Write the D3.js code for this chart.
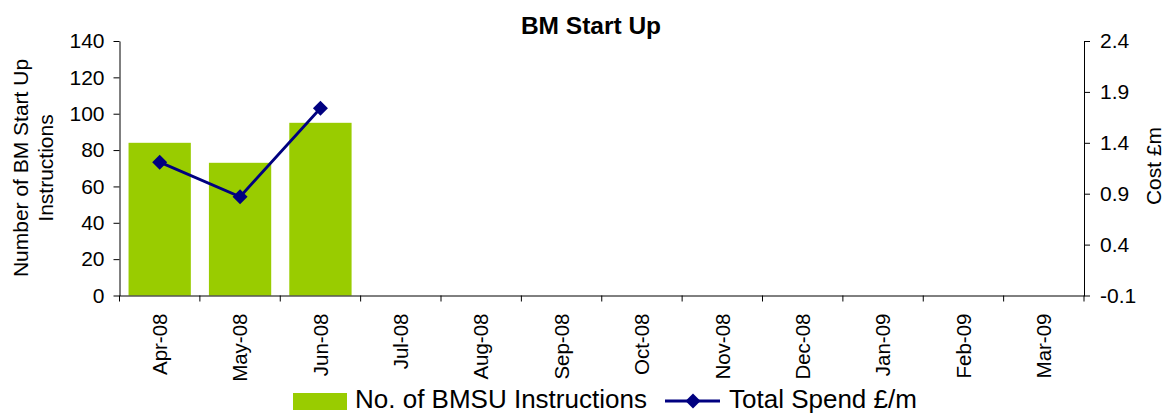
<!DOCTYPE html>
<html><head><meta charset="utf-8">
<script src="https://cdn.jsdelivr.net/npm/d3@7"></script>
<style>body{margin:0;background:#fff;}svg{display:block;font-family:"Liberation Sans",Arial,sans-serif;}</style>
</head><body>
<svg id="c" width="1167" height="414"></svg>
<script>
const months = ["Apr-08","May-08","Jun-08","Jul-08","Aug-08","Sep-08","Oct-08","Nov-08","Dec-08","Jan-09","Feb-09","Mar-09"];
const instructions = [84, 73, 95, null, null, null, null, null, null, null, null, null];
const spend = [1.21, 0.87, 1.74, null, null, null, null, null, null, null, null, null];
const leftTicks = [0,20,40,60,80,100,120,140];
const rightTicks = [-0.1,0.4,0.9,1.4,1.9,2.4];

const svg = d3.select("#c");
const L = 119.5, R = 1084, T = 41, B = 295.5;
const x = d3.scaleBand().domain(months).range([L, R]).paddingInner(0.225).paddingOuter(0.1125);
const xb = d3.scaleBand().domain(months).range([L, R]);
const yL = d3.scaleLinear().domain([0,140]).range([B, T]);
const yR = d3.scaleLinear().domain([-0.1,2.4]).range([B, T]);

// bars
svg.append("g").selectAll("rect").data(months.map((m,i)=>({m,v:instructions[i]})).filter(d=>d.v!=null))
  .enter().append("rect")
  .attr("x", d=>x(d.m)).attr("width", x.bandwidth())
  .attr("y", d=>yL(d.v)).attr("height", d=>B-yL(d.v))
  .attr("fill", "#99CC00");

// axes
const gL = svg.append("g").attr("transform",`translate(${L},0)`)
  .call(d3.axisLeft(yL).tickValues(leftTicks).tickSizeInner(6).tickSizeOuter(0).tickPadding(9).tickFormat(d3.format("d")));
const gR = svg.append("g").attr("transform",`translate(${R},0)`)
  .call(d3.axisRight(yR).tickValues(rightTicks).tickSizeInner(6).tickSizeOuter(0).tickPadding(10).tickFormat(d=>d.toFixed(1)));
const gX = svg.append("g").attr("transform",`translate(0,${B})`)
  .call(d3.axisBottom(xb).tickSize(0).tickSizeOuter(0).tickFormat(d=>d));
[gL,gR,gX].forEach(g=>{
  g.select(".domain").attr("stroke","#000").attr("stroke-width",1);
  g.selectAll(".tick line").attr("stroke","#000");
  g.selectAll("text").attr("font-family","'Liberation Sans',Arial,sans-serif").attr("font-size",21).attr("fill","#000");
});
// category boundary ticks
const bounds = months.map(m=>xb(m)).concat([R]);
svg.append("g").selectAll("line").data(bounds).enter().append("line")
  .attr("x1",d=>d).attr("x2",d=>d).attr("y1",B).attr("y2",B+6).attr("stroke","#000");
gX.selectAll(".tick text")
  .attr("font-size",20.5)
  .attr("transform","rotate(-90)")
  .attr("text-anchor","end")
  .attr("x",-18).attr("y",0).attr("dy","0.35em");

// line series
const pts = months.map((m,i)=>({m,v:spend[i]})).filter(d=>d.v!=null);
const line = d3.line().x(d=>xb(d.m)+xb.bandwidth()/2).y(d=>yR(d.v));
svg.append("path").datum(pts).attr("d",line).attr("fill","none").attr("stroke","#000080").attr("stroke-width",2.8);
const sq = {draw(ctx,size){const r=Math.sqrt(size)/2;ctx.moveTo(0,-r);ctx.lineTo(r,0);ctx.lineTo(0,r);ctx.lineTo(-r,0);ctx.closePath();}};
const diamond = d3.symbol().type(sq).size(225);
svg.append("g").selectAll("path").data(pts).enter().append("path")
  .attr("d", diamond)
  .attr("transform", d=>`translate(${xb(d.m)+xb.bandwidth()/2},${yR(d.v)})`)
  .attr("fill","#000080");

// title
svg.append("text").attr("x",591).attr("y",34).attr("text-anchor","middle")
  .attr("font-size",24.5).attr("font-weight","bold").text("BM Start Up");

// axis titles
const lt = svg.append("text").attr("transform",`translate(28,168) rotate(-90)`).attr("text-anchor","middle").attr("font-size",21);
lt.append("tspan").attr("x",0).attr("dy",0).text("Number of BM Start Up");
lt.append("tspan").attr("x",0).attr("dy",25).text("Instructions");
svg.append("text").attr("transform",`translate(1161,166) rotate(-90)`).attr("text-anchor","middle").attr("font-size",21).text("Cost £m");

// legend
const lg = svg.append("g");
lg.append("rect").attr("x",293).attr("y",393).attr("width",54).attr("height",17).attr("fill","#99CC00");
lg.append("text").attr("x",355).attr("y",407.5).attr("font-size",26).text("No. of BMSU Instructions");
lg.append("line").attr("x1",665).attr("x2",720).attr("y1",401).attr("y2",401).attr("stroke","#000080").attr("stroke-width",2.8);
lg.append("path").attr("d",diamond).attr("transform","translate(693,401)").attr("fill","#000080");
lg.append("text").attr("x",729).attr("y",407.5).attr("font-size",26).text("Total Spend £/m");
</script>
</body></html>
